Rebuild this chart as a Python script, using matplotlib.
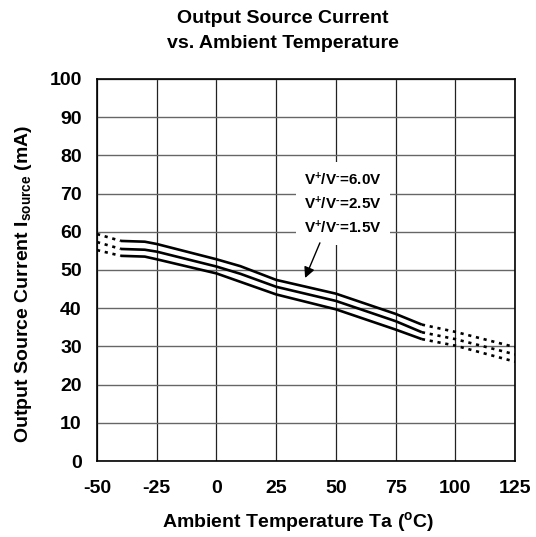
import matplotlib
matplotlib.use("Agg")
import matplotlib.pyplot as plt

# --- DATA ---
temp_solid = [-40, -30, -25, 0, 10, 25, 50, 75, 86]
cur_6v0 = [57.6, 57.4, 56.8, 52.8, 51.0, 47.4, 43.8, 38.5, 35.7]
cur_2v5 = [55.5, 55.3, 54.8, 50.9, 49.0, 45.6, 41.9, 36.6, 33.7]
cur_1v5 = [53.7, 53.5, 52.8, 49.1, 46.9, 43.6, 39.7, 34.4, 31.9]

# dotted extrapolation at both ends
temp_low = [-50, -40]
low_6v0 = [59.4, 57.6]
low_2v5 = [57.3, 55.5]
low_1v5 = [55.2, 53.7]

temp_high = [86, 100, 125]
high_6v0 = [35.7, 33.8, 29.8]
high_2v5 = [33.7, 31.9, 27.9]
high_1v5 = [31.9, 30.2, 26.0]

x_ticks = [-50, -25, 0, 25, 50, 75, 100, 125]
y_ticks = [0, 10, 20, 30, 40, 50, 60, 70, 80, 90, 100]
legend_labels = ["6.0V", "2.5V", "1.5V"]

plt.rcParams["font.family"] = ["Liberation Sans", "DejaVu Sans"]
plt.rcParams["font.weight"] = "bold"
plt.rcParams["axes.labelweight"] = "bold"
plt.rcParams["axes.unicode_minus"] = False
plt.rcParams["mathtext.fontset"] = "custom"
plt.rcParams["mathtext.rm"] = "Liberation Sans:bold"
plt.rcParams["mathtext.bf"] = "Liberation Sans:bold"
plt.rcParams["mathtext.default"] = "bf"

fig = plt.figure(figsize=(5.36, 5.37), dpi=100)
ax = fig.add_axes([0.181, 0.1415, 0.780, 0.7115])

# grid
for t in x_ticks:
    ax.axvline(t, color="#222222", lw=0.9, zorder=1)
for v in y_ticks:
    ax.axhline(v, color="#666666", lw=1.0, zorder=1)

# curves
for ys in (cur_6v0, cur_2v5, cur_1v5):
    ax.plot(temp_solid, ys, color="black", lw=1.9, zorder=4, solid_capstyle="butt")
for ys in (low_6v0, low_2v5, low_1v5):
    ax.plot(temp_low, ys, color="black", lw=1.9, ls=(0, (1.2, 1.8)), zorder=4)
for ys in (high_6v0, high_2v5, high_1v5):
    ax.plot(temp_high, ys, color="black", lw=1.9, ls=(0, (1.2, 1.8)), zorder=4)

ax.set_xlim(-50, 125)
ax.set_ylim(0, 100)
ax.set_xticks(x_ticks)
ax.set_yticks(y_ticks)
ax.tick_params(axis="both", length=0, labelsize=14)
ax.tick_params(axis="x", pad=14)
ax.tick_params(axis="y", pad=11)
for s in ax.spines.values():
    s.set_linewidth(1.2)
    s.set_zorder(5)

# legend box with arrow
ax.text(53, 67.4,
        "\n".join("V$^{+}$/V$^{\u2010}$=" + lab for lab in legend_labels),
        ha="center", va="center", fontsize=11, linespacing=1.48, zorder=3,
        bbox=dict(facecolor="white", edgecolor="none", pad=6))
ax.annotate("", xy=(37.1, 47.9), xytext=(43.3, 57.1), zorder=6,
            arrowprops=dict(arrowstyle="-|>", color="black", lw=1.0,
                            mutation_scale=16, shrinkA=0, shrinkB=0))

ax.set_ylabel(r"Output Source Current I$_{source}$ (mA)", fontsize=14)
ax.yaxis.set_label_coords(-0.15, 0.465)
ax.set_xlabel(r"Ambient Temperature Ta ($^{o}$C)", fontsize=14)
ax.xaxis.set_label_coords(0.48, -0.128)

fig.text(0.528, 0.943, "Output Source Current\nvs. Ambient Temperature",
         ha="center", va="center", fontsize=14, linespacing=1.6)

fig.savefig("out.png", dpi=100)
